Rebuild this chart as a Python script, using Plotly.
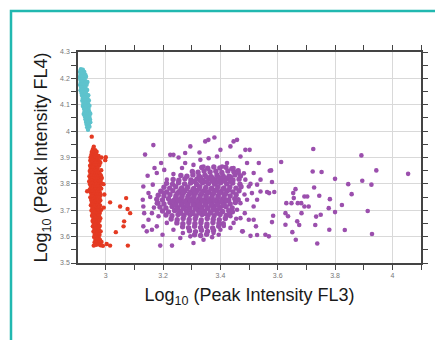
import plotly.graph_objects as go

# ---------------- data ----------------
teal_pts = [
    (2.913, 4.235), (2.920, 4.233),
    (2.910, 4.225), (2.918, 4.227), (2.925, 4.224),
    (2.912, 4.215), (2.921, 4.217), (2.929, 4.213),
    (2.909, 4.205), (2.916, 4.207), (2.924, 4.204), (2.931, 4.206),
    (2.911, 4.195), (2.919, 4.197), (2.927, 4.194),
    (2.913, 4.185), (2.921, 4.187), (2.930, 4.184), (2.936, 4.186),
    (2.910, 4.175), (2.917, 4.177), (2.925, 4.174), (2.933, 4.176),
    (2.914, 4.165), (2.922, 4.167), (2.929, 4.164),
    (2.912, 4.155), (2.919, 4.157), (2.927, 4.154), (2.935, 4.156),
    (2.915, 4.145), (2.923, 4.147), (2.931, 4.144),
    (2.917, 4.135), (2.925, 4.137), (2.933, 4.134), (2.939, 4.136),
    (2.920, 4.125), (2.928, 4.127), (2.936, 4.124),
    (2.918, 4.115), (2.926, 4.117), (2.934, 4.114), (2.941, 4.116),
    (2.922, 4.105), (2.930, 4.107), (2.938, 4.104),
    (2.920, 4.095), (2.928, 4.097), (2.936, 4.094), (2.943, 4.096),
    (2.924, 4.085), (2.932, 4.087), (2.940, 4.084),
    (2.926, 4.075), (2.934, 4.077), (2.942, 4.074),
    (2.923, 4.065), (2.931, 4.067), (2.939, 4.064), (2.946, 4.066),
    (2.927, 4.055), (2.935, 4.057), (2.943, 4.054),
    (2.929, 4.045), (2.937, 4.047), (2.945, 4.044),
    (2.931, 4.035), (2.939, 4.037), (2.946, 4.034),
    (2.933, 4.025), (2.941, 4.027),
    (2.935, 4.015), (2.943, 4.017),
    (2.938, 4.005),
]

red_pts = [
    (2.951, 3.979),
    (2.958, 3.941), (2.955, 3.931), (2.963, 3.928), (2.951, 3.921), (2.960, 3.918), (2.968, 3.922),
    (2.950, 3.911), (2.958, 3.908), (2.966, 3.912), (2.975, 3.906),
    (2.947, 3.901), (2.956, 3.898), (2.964, 3.902), (2.972, 3.897), (2.985, 3.900),
    (2.946, 3.889), (2.954, 3.891), (2.962, 3.887), (2.970, 3.890), (2.978, 3.886),
    (2.949, 3.879), (2.957, 3.876), (2.965, 3.881), (2.973, 3.877), (2.981, 3.880),
    (2.945, 3.869), (2.953, 3.867), (2.961, 3.871), (2.969, 3.866), (2.977, 3.870),
    (2.948, 3.859), (2.956, 3.861), (2.964, 3.857), (2.972, 3.860),
    (2.944, 3.849), (2.952, 3.851), (2.960, 3.847), (2.968, 3.850), (2.976, 3.846), (2.984, 3.852),
    (2.947, 3.839), (2.955, 3.841), (2.963, 3.837), (2.971, 3.840), (2.979, 3.838),
    (2.943, 3.829), (2.951, 3.831), (2.959, 3.827), (2.967, 3.830), (2.975, 3.828), (2.983, 3.832),
    (2.946, 3.819), (2.954, 3.821), (2.962, 3.817), (2.970, 3.820), (2.978, 3.818), (2.986, 3.822),
    (2.942, 3.809), (2.950, 3.811), (2.958, 3.807), (2.966, 3.810), (2.974, 3.808), (2.982, 3.812),
    (2.945, 3.799), (2.953, 3.801), (2.961, 3.797), (2.969, 3.800), (2.977, 3.798), (2.985, 3.802), (2.992, 3.799),
    (2.948, 3.789), (2.956, 3.791), (2.964, 3.787), (2.972, 3.790), (2.980, 3.788),
    (2.944, 3.779), (2.952, 3.781), (2.960, 3.777), (2.968, 3.780), (2.976, 3.778), (2.984, 3.782),
    (2.947, 3.769), (2.955, 3.771), (2.963, 3.767), (2.971, 3.770), (2.979, 3.768),
    (2.950, 3.759), (2.958, 3.761), (2.966, 3.757), (2.974, 3.760), (2.982, 3.758),
    (2.946, 3.749), (2.954, 3.751), (2.962, 3.747), (2.970, 3.750), (2.978, 3.748),
    (2.949, 3.739), (2.957, 3.741), (2.965, 3.737), (2.973, 3.740), (2.981, 3.738),
    (2.952, 3.729), (2.960, 3.731), (2.968, 3.727), (2.976, 3.730),
    (2.948, 3.719), (2.956, 3.721), (2.964, 3.717), (2.972, 3.720), (2.980, 3.718),
    (2.953, 3.709), (2.961, 3.711), (2.969, 3.707), (2.977, 3.710),
    (2.950, 3.699), (2.958, 3.701), (2.966, 3.697), (2.974, 3.700), (2.984, 3.702),
    (2.955, 3.689), (2.963, 3.691), (2.971, 3.687), (2.979, 3.690),
    (2.952, 3.679), (2.960, 3.681), (2.968, 3.677), (2.976, 3.680),
    (2.957, 3.669), (2.965, 3.671), (2.973, 3.667), (2.981, 3.670),
    (2.954, 3.659), (2.962, 3.661), (2.970, 3.657), (2.978, 3.660),
    (2.958, 3.649), (2.966, 3.651), (2.974, 3.647),
    (2.955, 3.639), (2.963, 3.641), (2.971, 3.637), (2.979, 3.640),
    (2.960, 3.629), (2.968, 3.631), (2.976, 3.627),
    (2.957, 3.619), (2.965, 3.621), (2.973, 3.617), (2.982, 3.620),
    (2.962, 3.609), (2.970, 3.611), (2.978, 3.607),
    (2.959, 3.599), (2.967, 3.601), (2.975, 3.597),
    (2.964, 3.589), (2.972, 3.591), (2.980, 3.587),
    (2.961, 3.579), (2.969, 3.581), (2.977, 3.577), (2.985, 3.580),
    (2.966, 3.569), (2.974, 3.571), (2.982, 3.567), (2.958, 3.566), (2.990, 3.565),
    (2.935, 3.772), (3.000, 3.901), (2.998, 3.890), (3.015, 3.730), (3.035, 3.617),
    (3.064, 3.658), (3.062, 3.639), (3.071, 3.746), (3.076, 3.705), (3.085, 3.689),
    (3.050, 3.714), (3.077, 3.566), (3.015, 3.566), (3.003, 3.572), (2.995, 3.760), (2.993, 3.710),
]

purple_core = [
    (3.335, 3.862), (3.356, 3.859), (3.377, 3.864), (3.398, 3.860), (3.419, 3.863), (3.440, 3.858),
    (3.302, 3.847), (3.322, 3.844), (3.343, 3.849), (3.364, 3.845), (3.384, 3.848), (3.405, 3.843), (3.426, 3.849), (3.447, 3.846), (3.462, 3.850),
    (3.262, 3.832), (3.283, 3.829), (3.304, 3.834), (3.325, 3.830), (3.346, 3.833), (3.367, 3.828), (3.388, 3.834), (3.409, 3.831), (3.430, 3.829), (3.451, 3.834), (3.470, 3.830),
    (3.235, 3.817), (3.255, 3.814), (3.276, 3.819), (3.297, 3.815), (3.318, 3.818), (3.339, 3.813), (3.360, 3.819), (3.381, 3.816), (3.402, 3.814), (3.423, 3.819), (3.444, 3.815), (3.465, 3.818),
    (3.212, 3.802), (3.233, 3.799), (3.254, 3.804), (3.275, 3.800), (3.296, 3.803), (3.317, 3.798), (3.338, 3.804), (3.359, 3.801), (3.380, 3.799), (3.401, 3.804), (3.422, 3.800), (3.443, 3.803), (3.468, 3.799),
    (3.203, 3.787), (3.223, 3.784), (3.244, 3.789), (3.265, 3.785), (3.286, 3.788), (3.307, 3.783), (3.328, 3.789), (3.349, 3.786), (3.370, 3.784), (3.391, 3.789), (3.412, 3.785), (3.433, 3.788), (3.454, 3.784), (3.472, 3.789),
    (3.192, 3.772), (3.213, 3.769), (3.234, 3.774), (3.255, 3.770), (3.276, 3.773), (3.297, 3.768), (3.318, 3.774), (3.339, 3.771), (3.360, 3.769), (3.381, 3.774), (3.402, 3.770), (3.423, 3.773), (3.444, 3.769), (3.465, 3.774),
    (3.183, 3.757), (3.203, 3.754), (3.224, 3.759), (3.245, 3.755), (3.266, 3.758), (3.287, 3.753), (3.308, 3.759), (3.329, 3.756), (3.350, 3.754), (3.371, 3.759), (3.392, 3.755), (3.413, 3.758), (3.434, 3.754), (3.455, 3.759),
    (3.178, 3.742), (3.198, 3.739), (3.219, 3.744), (3.240, 3.740), (3.261, 3.743), (3.282, 3.738), (3.303, 3.744), (3.324, 3.741), (3.345, 3.739), (3.366, 3.744), (3.387, 3.740), (3.408, 3.743), (3.429, 3.739), (3.450, 3.744), (3.462, 3.740),
    (3.182, 3.727), (3.203, 3.724), (3.224, 3.729), (3.245, 3.725), (3.266, 3.728), (3.287, 3.723), (3.308, 3.729), (3.329, 3.726), (3.350, 3.724), (3.371, 3.729), (3.392, 3.725), (3.413, 3.728), (3.434, 3.724), (3.452, 3.729),
    (3.189, 3.712), (3.210, 3.709), (3.231, 3.714), (3.252, 3.710), (3.273, 3.713), (3.294, 3.708), (3.315, 3.714), (3.336, 3.711), (3.357, 3.709), (3.378, 3.714), (3.399, 3.710), (3.420, 3.713), (3.441, 3.709),
    (3.198, 3.697), (3.219, 3.694), (3.240, 3.699), (3.261, 3.695), (3.282, 3.698), (3.303, 3.693), (3.324, 3.699), (3.345, 3.696), (3.366, 3.694), (3.387, 3.699), (3.408, 3.695), (3.429, 3.698), (3.442, 3.694),
    (3.210, 3.682), (3.231, 3.679), (3.252, 3.684), (3.273, 3.680), (3.294, 3.683), (3.315, 3.678), (3.336, 3.684), (3.357, 3.681), (3.378, 3.679), (3.399, 3.684), (3.420, 3.680), (3.432, 3.683),
    (3.228, 3.667), (3.249, 3.664), (3.270, 3.669), (3.291, 3.665), (3.312, 3.668), (3.333, 3.663), (3.354, 3.669), (3.375, 3.666), (3.396, 3.664), (3.417, 3.669),
    (3.248, 3.652), (3.269, 3.649), (3.290, 3.654), (3.311, 3.650), (3.332, 3.653), (3.353, 3.648), (3.374, 3.654), (3.395, 3.651), (3.410, 3.649),
    (3.268, 3.637), (3.289, 3.634), (3.310, 3.639), (3.331, 3.635), (3.352, 3.638), (3.373, 3.633), (3.394, 3.639),
    (3.292, 3.622), (3.313, 3.619), (3.334, 3.624), (3.355, 3.620), (3.376, 3.623),
    (3.310, 3.607), (3.331, 3.604), (3.352, 3.609),
    (3.330, 3.824), (3.351, 3.826), (3.372, 3.822), (3.393, 3.825), (3.414, 3.823), (3.435, 3.826),
    (3.310, 3.809), (3.331, 3.811), (3.352, 3.807), (3.373, 3.810), (3.394, 3.808), (3.415, 3.811), (3.436, 3.809),
    (3.262, 3.779), (3.283, 3.781), (3.304, 3.778), (3.325, 3.780), (3.346, 3.778), (3.367, 3.781), (3.388, 3.779), (3.409, 3.780), (3.430, 3.778),
    (3.250, 3.764), (3.271, 3.766), (3.292, 3.763), (3.313, 3.765), (3.334, 3.763), (3.355, 3.766), (3.376, 3.764), (3.397, 3.765), (3.418, 3.763),
    (3.245, 3.749), (3.266, 3.751), (3.287, 3.748), (3.308, 3.750), (3.329, 3.748), (3.350, 3.751), (3.371, 3.749), (3.392, 3.750), (3.413, 3.748),
    (3.233, 3.734), (3.254, 3.736), (3.275, 3.733), (3.296, 3.735), (3.317, 3.733), (3.338, 3.736), (3.359, 3.734), (3.380, 3.735), (3.401, 3.733), (3.422, 3.736),
    (3.242, 3.719), (3.263, 3.721), (3.284, 3.718), (3.305, 3.720), (3.326, 3.718), (3.347, 3.721), (3.368, 3.719), (3.389, 3.720), (3.410, 3.718),
    (3.250, 3.704), (3.271, 3.706), (3.292, 3.703), (3.313, 3.705), (3.334, 3.703), (3.355, 3.706), (3.376, 3.704), (3.397, 3.705),
    (3.262, 3.689), (3.283, 3.691), (3.304, 3.688), (3.325, 3.690), (3.346, 3.688), (3.367, 3.691), (3.388, 3.689),
]

purple_edge = [
    (3.166, 3.947), (3.137, 3.911), (3.193, 3.879), (3.225, 3.910), (3.236, 3.910),
    (3.295, 3.942), (3.347, 3.961), (3.379, 3.976), (3.358, 3.967), (3.458, 3.967),
    (3.446, 3.961), (3.435, 3.942), (3.400, 3.929), (3.487, 3.929), (3.502, 3.929),
    (3.470, 3.904), (3.327, 3.919), (3.277, 3.917), (3.254, 3.900), (3.388, 3.904),
    (3.493, 3.879), (3.534, 3.879), (3.572, 3.850), (3.516, 3.841), (3.487, 3.816),
    (3.540, 3.816), (3.528, 3.797), (3.540, 3.771), (3.563, 3.769), (3.510, 3.765),
    (3.493, 3.740), (3.528, 3.740), (3.516, 3.714), (3.485, 3.689), (3.470, 3.670),
    (3.499, 3.664), (3.435, 3.633), (3.476, 3.620), (3.394, 3.607), (3.341, 3.588),
    (3.306, 3.576), (3.260, 3.595), (3.231, 3.566), (3.190, 3.566), (3.198, 3.607),
    (3.143, 3.620), (3.161, 3.626), (3.178, 3.639), (3.131, 3.639), (3.149, 3.664),
    (3.134, 3.689), (3.131, 3.714), (3.129, 3.740), (3.131, 3.790), (3.149, 3.765),
    (3.164, 3.797), (3.146, 3.831), (3.178, 3.841), (3.170, 3.860), (3.204, 3.853),
    (3.213, 3.816), (3.236, 3.837), (3.266, 3.860), (3.277, 3.879), (3.306, 3.872),
    (3.330, 3.891), (3.359, 3.897), (3.341, 3.866), (3.423, 3.879), (3.446, 3.860),
    (3.406, 3.866), (3.464, 3.841), (3.161, 3.689), (3.178, 3.727), (3.184, 3.677),
    (3.213, 3.652), (3.236, 3.626), (3.269, 3.614), (3.295, 3.601), (3.371, 3.598),
    (3.400, 3.626), (3.376, 3.614), (3.446, 3.652), (3.435, 3.677), (3.458, 3.702),
    (3.470, 3.727), (3.499, 3.790), (3.201, 3.767), (3.155, 3.750), (3.168, 3.710),
    (3.412, 3.640), (3.455, 3.668), (3.484, 3.760), (3.482, 3.840), (3.505, 3.800),
]

purple_tail = [
    (3.724, 3.932), (3.892, 3.908), (3.944, 3.851), (4.055, 3.838), (3.895, 3.812),
    (3.927, 3.797), (3.800, 3.819), (3.846, 3.799), (3.858, 3.761), (3.824, 3.720),
    (3.914, 3.697), (3.929, 3.610), (3.834, 3.625), (3.738, 3.574), (3.722, 3.847),
    (3.753, 3.845), (3.727, 3.786), (3.745, 3.755), (3.782, 3.742), (3.778, 3.708),
    (3.800, 3.693), (3.780, 3.626), (3.731, 3.644), (3.734, 3.676), (3.750, 3.683),
    (3.662, 3.780), (3.654, 3.765), (3.656, 3.746), (3.648, 3.727), (3.670, 3.727),
    (3.682, 3.727), (3.693, 3.752), (3.703, 3.752), (3.693, 3.714), (3.708, 3.714),
    (3.630, 3.727), (3.627, 3.689), (3.636, 3.677), (3.668, 3.658), (3.675, 3.644),
    (3.651, 3.617), (3.663, 3.588), (3.683, 3.689), (3.627, 3.645), (3.588, 3.769),
    (3.612, 3.883), (3.580, 3.807), (3.577, 3.851), (3.570, 3.765), (3.584, 3.679),
    (3.580, 3.655), (3.557, 3.607), (3.528, 3.606), (3.505, 3.603), (3.569, 3.601),
    (3.524, 3.639), (3.516, 3.664), (3.478, 3.620),
]

x_ticks = [3, 3.2, 3.4, 3.6, 3.8, 4]
y_ticks = [3.5, 3.6, 3.7, 3.8, 3.9, 4, 4.1, 4.2, 4.3]

# ---------------- figure ----------------
fig = go.Figure()

PURPLE, RED, TEAL = "#9b4fad", "#e43a22", "#5ec3cd"
series = [
    (purple_core, PURPLE, 5.4),
    (purple_edge + purple_tail, PURPLE, 4.6),
    (red_pts, RED, 4.4),
    (teal_pts, TEAL, 4.4),
]
for pts, col, sz in series:
    fig.add_trace(go.Scatter(
        x=[p[0] for p in pts], y=[p[1] for p in pts],
        mode="markers",
        marker=dict(color=col, size=sz, line=dict(width=0)),
        showlegend=False, hoverinfo="skip",
    ))

FONT = "Liberation Sans, Arial, sans-serif"
axis_common = dict(
    showgrid=True, gridcolor="#d9d9d9", gridwidth=1,
    showline=True, linecolor="#444444", linewidth=1.5, mirror="ticks",
    ticks="outside", ticklen=5, tickwidth=1.2, tickcolor="#444444",
    tickfont=dict(family=FONT, size=7, color="#777777"),
    zeroline=False,
)

fig.update_xaxes(
    range=[2.903, 4.1], tickvals=x_ticks, ticktext=[f"{v:g}" for v in x_ticks],
    minor=dict(dtick=0.1, tick0=3, ticks="outside", ticklen=5, tickcolor="#444444", showgrid=False),
    title=dict(text="Log<sub>10</sub> (Peak Intensity FL3)",
               font=dict(family=FONT, size=18, color="#1a1a1a"), standoff=10),
    **axis_common,
)
fig.update_yaxes(
    range=[3.5, 4.3], tickvals=y_ticks, ticktext=[f"{v:g}" for v in y_ticks],
    minor=dict(dtick=0.05, tick0=3.5, ticks="outside", ticklen=5, tickcolor="#444444", showgrid=False),
    title=dict(text="Log<sub>10</sub> (Peak Intensity FL4)",
               font=dict(family=FONT, size=18, color="#1a1a1a"), standoff=8),
    **axis_common,
)

# page has an 8px body margin: the figure starts at page (8, 8)
OFF = 8
W, H = 443 - OFF, 340 - OFF
L, T = 78 - OFF, 52 - OFF
pw, ph = 343, 211
R, B = W - L - pw, H - T - ph

# teal frame: left edge at page x=11, top edge at page y=11
bx = 11 - OFF
by = 11 - OFF
fig.add_shape(
    type="rect", xref="paper", yref="paper",
    x0=(bx - L) / pw, x1=(W + 20 - L) / pw,
    y0=-(B + 20) / ph, y1=(ph + T - by) / ph,
    line=dict(color="#21b8b0", width=2.5), fillcolor="rgba(0,0,0,0)", layer="above",
)

fig.update_layout(
    width=W, height=H,
    margin=dict(l=L, r=R, t=T, b=B),
    paper_bgcolor="white", plot_bgcolor="white",
)

fig.write_html("out.html")
